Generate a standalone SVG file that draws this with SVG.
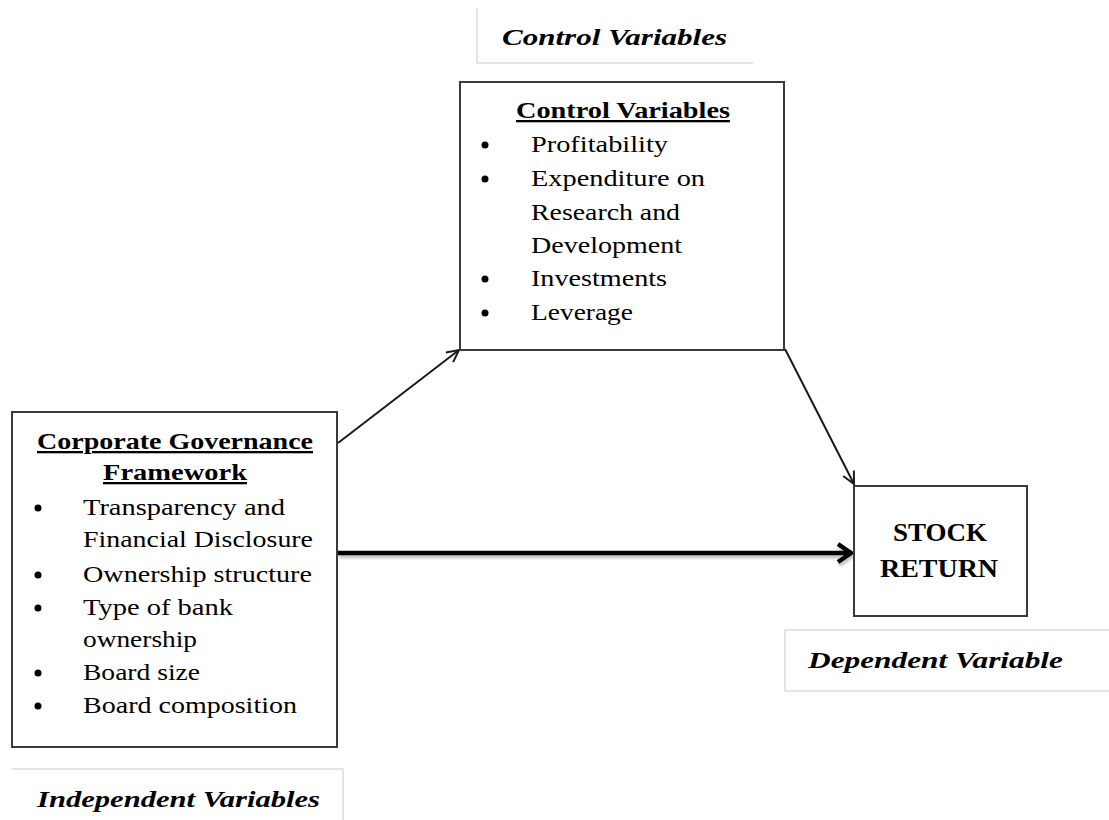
<svg xmlns="http://www.w3.org/2000/svg" width="1109" height="820" viewBox="0 0 1109 820">
<defs>
<style>
.box{fill:#fff;stroke:#3a3a3a;stroke-width:2}
.lbl{fill:none;stroke:#dcdcdc;stroke-width:1.5}
.t{font-family:"Liberation Serif","Times New Roman",serif;font-size:23px;fill:#000}
.b{font-weight:bold;text-decoration:underline}
.h{font-family:"Liberation Serif","Times New Roman",serif;font-size:23px;font-weight:bold;font-style:italic;fill:#000}
.s{font-family:"Liberation Serif","Times New Roman",serif;font-size:26px;font-weight:bold;fill:#000}
.conn{fill:none;stroke:#1a1a1a;stroke-width:2}
.thick{fill:none;stroke:#000;stroke-width:4.5}
</style>
<marker id="ah" viewBox="0 0 14 14" refX="13" refY="7" markerWidth="14" markerHeight="14" markerUnits="userSpaceOnUse" orient="auto">
<path d="M1,1 L13,7 L1,13" fill="none" stroke="#1a1a1a" stroke-width="2"/>
</marker>
<marker id="ah2" viewBox="0 0 18 22" refX="17" refY="11" markerWidth="18" markerHeight="22" markerUnits="userSpaceOnUse" orient="auto">
<path d="M3,2 L16,11 L3,20" fill="none" stroke="#000" stroke-width="4.5" stroke-linejoin="miter"/>
</marker>
<filter id="sh" filterUnits="userSpaceOnUse" x="320" y="530" width="560" height="50">
<feDropShadow dx="1" dy="3" stdDeviation="1.5" flood-color="#000" flood-opacity="0.25"/>
</filter>
</defs>
<rect width="1109" height="820" fill="#fff"/>

<g id="label-control">
<path class="lbl" d="M477,8 V63 H753"/>
<text class="h" x="502" y="45" textLength="225" lengthAdjust="spacingAndGlyphs">Control Variables</text>
</g>

<g id="label-independent">
<path class="lbl" d="M12,769 H343 V820"/>
<text class="h" x="37" y="807" textLength="283" lengthAdjust="spacingAndGlyphs">Independent Variables</text>
</g>

<g id="label-dependent">
<path class="lbl" d="M1109,630 H785 V691 H1109"/>
<text class="h" x="808" y="668" textLength="255" lengthAdjust="spacingAndGlyphs">Dependent Variable</text>
</g>

<g id="connectors">
<line class="conn" x1="338" y1="443" x2="459" y2="350" marker-end="url(#ah)"/>
<line class="conn" x1="785" y1="349" x2="854" y2="484" marker-end="url(#ah)"/>
<g filter="url(#sh)">
<line class="thick" x1="338" y1="553" x2="852" y2="553" marker-end="url(#ah2)"/>
</g>
</g>

<g id="control">
<rect class="box" x="460" y="82" width="324" height="268"/>
<text class="t b" x="516" y="118" textLength="214" lengthAdjust="spacingAndGlyphs">Control Variables</text>
<g class="t">
<circle cx="485" cy="145" r="3.5"/>
<circle cx="485" cy="179" r="3.5"/>
<circle cx="485" cy="279" r="3.5"/>
<circle cx="485" cy="313" r="3.5"/>
<text x="531" y="152" textLength="137" lengthAdjust="spacingAndGlyphs">Profitability</text>
<text x="531" y="186" textLength="174" lengthAdjust="spacingAndGlyphs">Expenditure on</text>
<text x="531" y="220" textLength="149" lengthAdjust="spacingAndGlyphs">Research and</text>
<text x="531" y="253" textLength="151" lengthAdjust="spacingAndGlyphs">Development</text>
<text x="531" y="286" textLength="136" lengthAdjust="spacingAndGlyphs">Investments</text>
<text x="531" y="320" textLength="102" lengthAdjust="spacingAndGlyphs">Leverage</text>
</g>
</g>

<g id="governance">
<rect class="box" x="12" y="412" width="325" height="335"/>
<text class="t b" x="37" y="449" textLength="276" lengthAdjust="spacingAndGlyphs">Corporate Governance</text>
<text class="t b" x="103" y="480" textLength="144" lengthAdjust="spacingAndGlyphs">Framework</text>
<g class="t">
<circle cx="38" cy="508" r="3.5"/>
<circle cx="38" cy="575" r="3.5"/>
<circle cx="38" cy="608" r="3.5"/>
<circle cx="38" cy="673" r="3.5"/>
<circle cx="38" cy="706" r="3.5"/>
<text x="83" y="515" textLength="202" lengthAdjust="spacingAndGlyphs">Transparency and</text>
<text x="83" y="547" textLength="230" lengthAdjust="spacingAndGlyphs">Financial Disclosure</text>
<text x="83" y="582" textLength="229" lengthAdjust="spacingAndGlyphs">Ownership structure</text>
<text x="83" y="615" textLength="150" lengthAdjust="spacingAndGlyphs">Type of bank</text>
<text x="83" y="647" textLength="114" lengthAdjust="spacingAndGlyphs">ownership</text>
<text x="83" y="680" textLength="117" lengthAdjust="spacingAndGlyphs">Board size</text>
<text x="83" y="713" textLength="214" lengthAdjust="spacingAndGlyphs">Board composition</text>
</g>
</g>

<g id="stock">
<rect class="box" x="854" y="486" width="173" height="130"/>
<text class="s" x="893" y="541" textLength="94" lengthAdjust="spacingAndGlyphs">STOCK</text>
<text class="s" x="880" y="577" textLength="118" lengthAdjust="spacingAndGlyphs">RETURN</text>
</g>
</svg>
